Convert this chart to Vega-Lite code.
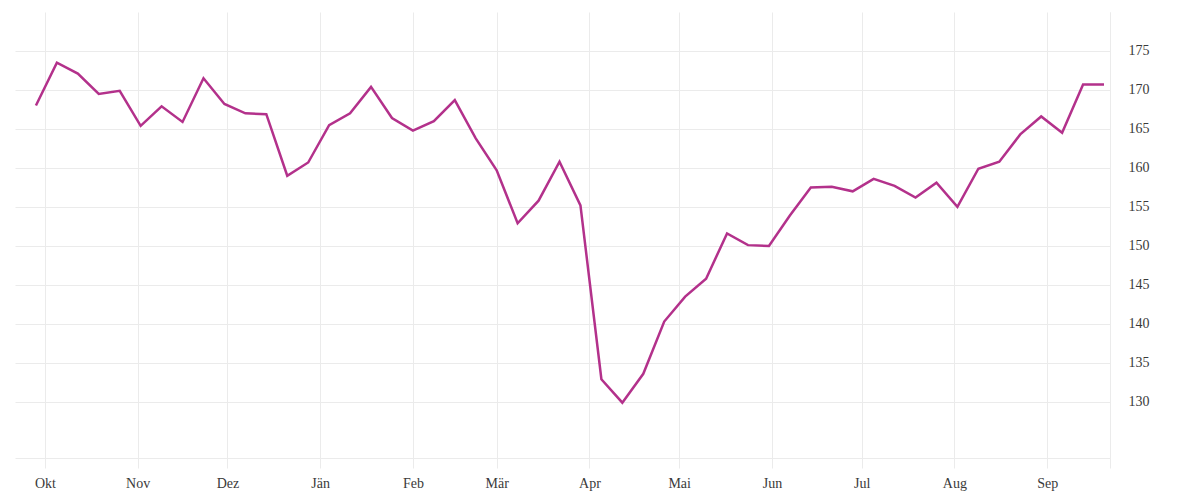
{
  "$schema": "https://vega.github.io/schema/vega-lite/v6.json",
  "width": 1095,
  "height": 446,
  "autosize": "none",
  "padding": {"left": 15, "top": 12, "right": 90, "bottom": 42},
  "background": "white",
  "config": {
    "view": {"stroke": null},
    "font": "Liberation Serif",
    "axis": {
      "labelFont": "Liberation Serif",
      "labelFontSize": 14,
      "labelColor": "#3a3a3a",
      "gridColor": "#ebebeb",
      "gridWidth": 1,
      "domainColor": "#ebebeb",
      "tickColor": "#ebebeb",
      "title": null
    }
  },
  "data": {
    "values": [
      {"date": "2020-09-28", "value": 168.0},
      {"date": "2020-10-05", "value": 173.5},
      {"date": "2020-10-12", "value": 172.1},
      {"date": "2020-10-19", "value": 169.5},
      {"date": "2020-10-26", "value": 169.9},
      {"date": "2020-11-02", "value": 165.4},
      {"date": "2020-11-09", "value": 167.9},
      {"date": "2020-11-16", "value": 165.9},
      {"date": "2020-11-23", "value": 171.5},
      {"date": "2020-11-30", "value": 168.2},
      {"date": "2020-12-07", "value": 167.0},
      {"date": "2020-12-14", "value": 166.9},
      {"date": "2020-12-21", "value": 159.0},
      {"date": "2020-12-28", "value": 160.7},
      {"date": "2021-01-04", "value": 165.5},
      {"date": "2021-01-11", "value": 167.0},
      {"date": "2021-01-18", "value": 170.4},
      {"date": "2021-01-25", "value": 166.4},
      {"date": "2021-02-01", "value": 164.8},
      {"date": "2021-02-08", "value": 166.0},
      {"date": "2021-02-15", "value": 168.7},
      {"date": "2021-02-22", "value": 163.8},
      {"date": "2021-03-01", "value": 159.7},
      {"date": "2021-03-08", "value": 152.9},
      {"date": "2021-03-15", "value": 155.8},
      {"date": "2021-03-22", "value": 160.8},
      {"date": "2021-03-29", "value": 155.2},
      {"date": "2021-04-05", "value": 132.9},
      {"date": "2021-04-12", "value": 129.9},
      {"date": "2021-04-19", "value": 133.6},
      {"date": "2021-04-26", "value": 140.3},
      {"date": "2021-05-03", "value": 143.5},
      {"date": "2021-05-10", "value": 145.8},
      {"date": "2021-05-17", "value": 151.6},
      {"date": "2021-05-24", "value": 150.1},
      {"date": "2021-05-31", "value": 150.0},
      {"date": "2021-06-07", "value": 153.9},
      {"date": "2021-06-14", "value": 157.5},
      {"date": "2021-06-21", "value": 157.6},
      {"date": "2021-06-28", "value": 157.0},
      {"date": "2021-07-05", "value": 158.6},
      {"date": "2021-07-12", "value": 157.7},
      {"date": "2021-07-19", "value": 156.2},
      {"date": "2021-07-26", "value": 158.1},
      {"date": "2021-08-02", "value": 155.0},
      {"date": "2021-08-09", "value": 159.9},
      {"date": "2021-08-16", "value": 160.8},
      {"date": "2021-08-23", "value": 164.3},
      {"date": "2021-08-30", "value": 166.6},
      {"date": "2021-09-06", "value": 164.5},
      {"date": "2021-09-13", "value": 170.7},
      {"date": "2021-09-20", "value": 170.7}
    ]
  },
  "mark": {"type": "line", "color": "#b3318b", "strokeWidth": 2.5, "strokeJoin": "miter", "clip": true},
  "encoding": {
    "x": {
      "field": "date",
      "type": "temporal",
      "scale": {
        "type": "utc",
        "domain": [
          {"year": 2020, "month": 9, "date": 21, "utc": true},
          {"year": 2021, "month": 9, "date": 22, "utc": true}
        ]
      },
      "axis": {
        "orient": "bottom",
        "grid": true,
        "domain": true,
        "ticks": true,
        "tickSize": 10,
        "labelPadding": 8,
        "labelBaseline": "top",
        "values": [
          {"year": 2020, "month": 10, "date": 1, "utc": true},
          {"year": 2020, "month": 11, "date": 1, "utc": true},
          {"year": 2020, "month": 12, "date": 1, "utc": true},
          {"year": 2021, "month": 1, "date": 1, "utc": true},
          {"year": 2021, "month": 2, "date": 1, "utc": true},
          {"year": 2021, "month": 3, "date": 1, "utc": true},
          {"year": 2021, "month": 4, "date": 1, "utc": true},
          {"year": 2021, "month": 5, "date": 1, "utc": true},
          {"year": 2021, "month": 6, "date": 1, "utc": true},
          {"year": 2021, "month": 7, "date": 1, "utc": true},
          {"year": 2021, "month": 8, "date": 1, "utc": true},
          {"year": 2021, "month": 9, "date": 1, "utc": true},
          {"year": 2021, "month": 9, "date": 22, "utc": true}
        ],
        "labelExpr": "utcdate(datum.value) != 1 ? '' : ['Jän','Feb','Mär','Apr','Mai','Jun','Jul','Aug','Sep','Okt','Nov','Dez'][utcmonth(datum.value)]"
      }
    },
    "y": {
      "field": "value",
      "type": "quantitative",
      "scale": {"domain": [122.8, 180], "zero": false, "nice": false},
      "axis": {
        "orient": "right",
        "grid": true,
        "domain": true,
        "ticks": false,
        "labelPadding": 18,
        "values": [130, 135, 140, 145, 150, 155, 160, 165, 170, 175]
      }
    }
  }
}
